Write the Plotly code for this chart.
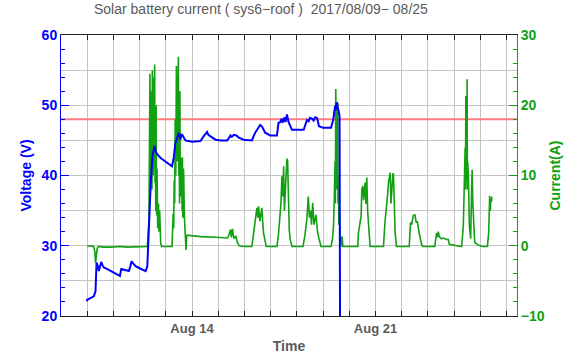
import pandas as pd
import plotly.graph_objects as go

# ---------------- data ----------------
start_date = "2017-08-09"
x_range_days = [0.0, 17.40]

volt_days = [0.973, 1.00, 1.252, 1.317, 1.356, 1.40, 1.444, 1.49, 1.535, 1.585, 1.635, 1.75, 1.891, 2.05,
             2.247, 2.300, 2.40, 2.591, 2.64, 2.694, 2.75, 2.847, 3.0, 3.229, 3.294, 3.356, 3.42, 3.486,
             3.574, 3.62, 3.677, 3.803, 4.0, 4.235, 4.30, 4.365, 4.43, 4.491, 4.556, 4.60, 4.644, 4.748,
             5.000, 5.321, 5.447, 5.50, 5.574, 5.62, 5.704, 5.895, 6.10, 6.338, 6.400, 6.468, 6.52, 6.595,
             6.69, 6.786, 6.966, 7.283, 7.409, 7.47, 7.539, 7.60, 7.665, 7.792, 7.983, 8.239, 8.30, 8.365,
             8.42, 8.46, 8.495, 8.53, 8.57, 8.60, 8.621, 8.686, 8.75, 8.813, 9.0, 9.260, 9.386, 9.45,
             9.50, 9.577, 9.64, 9.70, 9.769, 9.800, 9.845, 10.0, 10.304, 10.392, 10.430, 10.457, 10.48,
             10.50, 10.522, 10.54, 10.56, 10.583, 10.629, 10.660]
volt_values = [22.1, 22.3, 22.8, 23.5, 27.6, 27.2, 26.4, 27.0, 27.7, 27.2, 26.9, 26.7, 26.4, 26.1,
               25.7, 26.7, 26.6, 26.4, 27.0, 27.8, 27.5, 27.1, 26.8, 26.4, 27.1, 33.7, 38.5, 42.8,
               44.2, 43.4, 43.0, 42.5, 42.0, 41.3, 42.5, 44.6, 45.3, 46.1, 45.1, 45.9, 45.7, 45.0,
               44.8, 44.9, 45.6, 45.9, 46.2, 45.8, 45.6, 45.1, 45.0, 45.0, 45.3, 45.7, 45.5, 45.8,
               45.7, 45.4, 45.1, 45.0, 46.1, 46.5, 46.8, 47.2, 47.0, 46.1, 45.7, 45.7, 47.5, 47.6,
               48.1, 47.5, 47.9, 48.3, 47.6, 48.4, 48.7, 47.6, 46.9, 46.5, 46.5, 46.5, 47.9, 47.7,
               48.2, 48.1, 47.8, 48.3, 48.2, 47.6, 47.0, 46.8, 46.8, 48.0, 48.9, 49.9, 49.3,
               50.3, 49.6, 50.4, 49.5, 49.4, 48.5, 0.0]

curr_days = [1.000, 1.10, 1.241, 1.291, 1.317, 1.348, 1.386, 1.432, 1.60, 1.891, 2.10, 2.273, 2.50,
             2.656, 2.85, 3.038, 3.20, 3.294, 3.356, 3.375, 3.394, 3.413, 3.432, 3.446, 3.459, 3.472,
             3.486, 3.500, 3.516, 3.531, 3.547, 3.560, 3.574, 3.589, 3.604, 3.617, 3.631, 3.640,
             3.650, 3.664, 3.677, 3.690, 3.700, 3.720, 3.738, 3.765, 3.803, 3.841, 4.00, 4.235,
             4.281, 4.300, 4.319, 4.338, 4.358, 4.380, 4.403, 4.418, 4.434, 4.457, 4.480, 4.495,
             4.510, 4.524, 4.537, 4.552, 4.568, 4.590, 4.606, 4.620, 4.633, 4.650, 4.663, 4.673,
             4.683, 4.710, 4.732, 4.771, 4.797, 5.333, 5.906, 6.354, 6.403, 6.468, 6.499, 6.545,
             6.595, 6.671, 6.728, 6.797, 7.0,
             7.283, 7.340, 7.409, 7.474, 7.512, 7.539, 7.589, 7.627, 7.665, 7.704, 7.730, 7.830, 8.0,
             8.239, 8.296, 8.342, 8.392, 8.430, 8.461, 8.495, 8.526, 8.564, 8.591, 8.621, 8.648, 8.686,
             8.709, 8.747, 8.813, 9.0, 9.233, 9.310, 9.386, 9.436, 9.482, 9.520, 9.558, 9.604, 9.654,
             9.730, 9.788, 9.845, 9.922, 10.1, 10.304, 10.361, 10.400, 10.430, 10.457, 10.470, 10.484,
             10.493, 10.503, 10.512, 10.522, 10.533, 10.545, 10.552, 10.560, 10.570, 10.583, 10.600,
             10.621, 10.648, 10.700, 10.727, 10.757, 11.0, 11.325,
             11.348, 11.413, 11.451, 11.478, 11.516, 11.547, 11.604, 11.635, 11.669, 11.700, 11.730,
             11.795, 12.0, 12.304, 12.369, 12.426, 12.457, 12.495, 12.533, 12.560, 12.591, 12.618,
             12.664, 12.686, 12.713, 12.751, 12.801, 13.0, 13.287, 13.336, 13.382, 13.440, 13.505,
             13.555, 13.593, 13.669, 13.757, 13.811, 14.0, 14.262, 14.331, 14.358, 14.396, 14.434,
             14.511, 14.587, 14.713, 14.778, 14.817, 15.0, 15.161, 15.287, 15.352, 15.390, 15.421,
             15.434, 15.447, 15.457, 15.467, 15.482, 15.497, 15.506, 15.516, 15.543, 15.581, 15.608,
             15.631, 15.669, 15.688, 15.715,
             15.746, 15.784, 15.811, 15.914, 16.1, 16.270, 16.319, 16.358, 16.384, 16.396, 16.423,
             16.442]
curr_values = [-0.1, 0.0, -0.1, -0.8, -2.4, -1.0, -0.3, -0.1, -0.2, -0.2, -0.1, -0.1, -0.2,
               -0.2, -0.1, -0.1, -0.2, -0.1, 3.7, 16.0, 24.5, 9.0, 12.0, 20.0, 22.0, 8.0,
               25.0, 12.0, 10.0, 21.0, 24.0, 11.0, 25.8, 9.0, 14.0, 5.0, 20.0, 6.0,
               4.3, 11.0, 7.0, 2.5, 3.8, 6.0, 2.0, 5.0, 0.4, -0.1, -0.1, -0.1,
               4.5, 2.5, 9.3, 6.0, 18.0, 10.0, 25.6, 14.0, 12.0, 21.0, 26.9, 10.0,
               14.0, 6.0, 22.0, 8.0, 7.0, 12.5, 12.0, 5.0, 12.6, 4.0, 6.0, 11.0,
               10.0, 4.0, 2.3, -0.6, 1.5, 1.3, 1.2, 1.1, 1.5, 2.3, 1.2, 2.4,
               1.0, 1.4, 0.5, 0.0, -0.1,
               -0.1, 1.5, 3.7, 5.4, 4.0, 5.6, 3.5, 5.0, 5.4, 3.0, 1.8, -0.1, -0.1,
               -0.1, 1.5, 3.3, 6.0, 9.9, 7.0, 11.3, 5.0, 8.0, 11.0, 12.4, 12.0, 4.0,
               2.3, 0.9, -0.1, -0.1, -0.1, 1.5, 4.0, 7.0, 4.0, 5.0, 3.0, 6.1, 3.0,
               4.4, 2.0, 1.0, -0.1, -0.1, -0.1, 1.0, 3.0, 7.0, 12.0, 6.0, 22.3,
               10.0, 14.0, 8.0, 20.5, 9.0, 12.0, 7.0, 20.3, 6.0, 10.0, 3.0,
               4.5, 1.8, -0.1, 1.3, -0.1, -0.1, -0.1,
               1.8, 3.5, 4.2, 8.0, 8.5, 6.5, 9.0, 6.0, 9.7, 5.0, 2.8,
               -0.1, -0.1, -0.1, 3.7, 5.5, 7.0, 9.0, 10.0, 10.4, 6.0, 8.0,
               10.3, 10.2, 5.0, 1.8, -0.1, -0.1, -0.1, 3.3, 3.0, 4.3, 4.4,
               3.3, 3.5, 1.8, 0.2, -0.1, -0.1, -0.1, 1.8, 1.2, 2.0, 1.3,
               1.0, 1.1, 0.9, 0.9, 0.2, 0.1, 0.0, -0.1, 2.8, 9.9, 14.0,
               8.0, 21.3, 10.0, 15.0, 9.0, 23.7, 8.0, 12.0, 10.4, 3.0, 1.5,
               1.0, 8.0, 10.8, 6.0,
               2.3, 0.6, 0.4, 0.1, -0.1, -0.1, 1.8, 7.1, 5.0, 6.7, 6.2,
               7.0]

limit_voltage = 48

x_tick_days = list(range(1, 18))
x_tick_labels = ["", "", "", "", "Aug 14", "", "", "", "", "", "", "Aug 21", "", "", "", "", ""]
v_ticks = [20, 30, 40, 50, 60]
v_grid = [20, 25, 30, 35, 40, 45, 50, 55, 60]
a_ticks = [-10, 0, 10, 20, 30]
v_range = [20, 60]
a_range = [-10, 30]

title_text = "Solar battery current ( sys6\u2212roof )  2017/08/09\u2212 08/25"

# ---------------- build ----------------
base = pd.Timestamp(start_date)
to_time = lambda days: [base + pd.to_timedelta(d, unit="D") for d in days]

BLUE = "#0000ff"
GREEN = "#11a011"
GRAY = "#5a5a5a"
FONT = "Liberation Sans, Arial, sans-serif"

fig = go.Figure()
x_rng = to_time(x_range_days)

fig.add_trace(go.Scatter(x=x_rng, y=[limit_voltage, limit_voltage], mode="lines",
                         line=dict(color="#ff7c7c", width=2), yaxis="y", showlegend=False,
                         hoverinfo="skip"))
fig.add_trace(go.Scatter(x=to_time(curr_days), y=curr_values, mode="lines",
                         line=dict(color=GREEN, width=1.6), yaxis="y2", showlegend=False))
fig.add_trace(go.Scatter(x=to_time(volt_days), y=volt_values, mode="lines",
                         line=dict(color=BLUE, width=2), yaxis="y3", showlegend=False))

fig.update_layout(
    width=576, height=362,
    margin=dict(l=61, r=59, t=35, b=46, autoexpand=False),
    paper_bgcolor="white", plot_bgcolor="white",
    font=dict(family=FONT),
    title=dict(text=title_text, x=0.453, xanchor="center", xref="container",
               y=0.974, yanchor="middle", yref="container",
               font=dict(size=14, color=GRAY, family=FONT)),
    xaxis=dict(range=x_rng, tickvals=to_time(x_tick_days), ticktext=x_tick_labels,
               ticks="inside", ticklen=5, tickcolor="#222", showline=True, linecolor="#222",
               linewidth=1, mirror="ticks", showgrid=True, gridcolor="#c4c4c4", gridwidth=1,
               tickfont=dict(size=13, color=GRAY, weight="bold"),
               title=dict(text="Time", standoff=6, font=dict(size=14, color=GRAY, weight="bold")),
               zeroline=False, automargin=False),
    yaxis=dict(range=v_range, tickvals=v_ticks, ticks="inside", ticklen=8, tickcolor=BLUE,
               showline=True, linecolor=BLUE, linewidth=1, showgrid=False, zeroline=False,
               minor=dict(dtick=2, ticks="inside", ticklen=4, tickcolor=BLUE, showgrid=False),
               tickfont=dict(size=14, color=BLUE, weight="bold"),
               title=dict(text="Voltage (V)", standoff=6, font=dict(size=14, color=BLUE, weight="bold")),
               automargin=False),
    yaxis2=dict(range=a_range, tickvals=a_ticks, overlaying="y", side="right", anchor="x",
                ticks="inside", ticklen=8, tickcolor=GREEN, showline=True, linecolor=GREEN,
                linewidth=1, showgrid=False, zeroline=False,
                minor=dict(dtick=2, ticks="inside", ticklen=4, tickcolor=GREEN, showgrid=False),
                tickfont=dict(size=14, color=GREEN, weight="bold"),
                title=dict(text="Current(A)", standoff=6, font=dict(size=14, color=GREEN, weight="bold")),
                automargin=False),
    yaxis3=dict(range=v_range, overlaying="y", anchor="x", side="left", tickvals=v_grid,
                showticklabels=False, ticks="", showline=False, zeroline=False,
                showgrid=True, gridcolor="#c4c4c4", gridwidth=1, automargin=False),
)

fig.write_html("out.html", config={"displayModeBar": False},
               post_script="document.body.style.margin='0';")
